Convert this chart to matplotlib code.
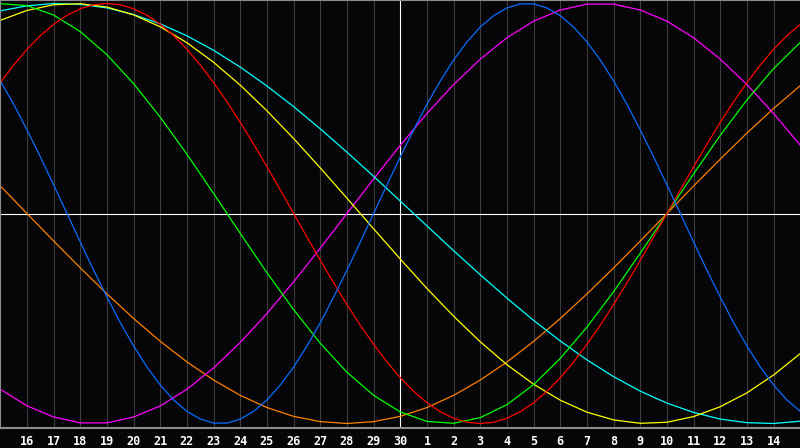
import matplotlib
matplotlib.use("Agg")
import matplotlib.pyplot as plt

# day labels along the bottom (one per grid line)
day_labels = [16, 17, 18, 19, 20, 21, 22, 23, 24, 25, 26, 27, 28, 29, 30,
              1, 2, 3, 4, 5, 6, 7, 8, 9, 10, 11, 12, 13, 14]
today_index = 14  # the "30" column, marked with the white line

# day positions of the samples (-1 = the column left of "16")
days = list(range(-1, 30))
half_days = [d / 2 for d in range(-2, 59)]

# cycle values in percent
# the two fast cycles are read every half day, the slower ones once a day
physical = [63.1, 52.0, 39.8, 27.0, 13.6, 0.0, -13.6, -27.0, -39.8, -52.0,
            -63.1, -73.1, -81.7, -88.8, -94.2, -97.9, -99.8, -99.8, -97.9, -94.2,
            -88.8, -81.7, -73.1, -63.1, -52.0, -39.8, -27.0, -13.6, 0.0, 13.6,
            27.0, 39.8, 52.0, 63.1, 73.1, 81.7, 88.8, 94.2, 97.9, 99.8,
            99.8, 97.9, 94.2, 88.8, 81.7, 73.1, 63.1, 52.0, 39.8, 27.0,
            13.6, 0.0, -13.6, -27.0, -39.8, -52.0, -63.1, -73.1, -81.7, -88.8, -94.2]
emotional = [62.3, 70.7, 78.2, 84.7, 90.1, 94.4, 97.5, 99.4, 100.0, 99.4,
             97.5, 94.4, 90.1, 84.7, 78.2, 70.7, 62.3, 53.2, 43.4, 33.0,
             22.3, 11.2, 0.0, -11.2, -22.3, -33.0, -43.4, -53.2, -62.3, -70.7,
             -78.2, -84.7, -90.1, -94.4, -97.5, -99.4, -100.0, -99.4, -97.5, -94.4,
             -90.1, -84.7, -78.2, -70.7, -62.3, -53.2, -43.4, -33.0, -22.3, -11.2,
             0.0, 11.2, 22.3, 33.0, 43.4, 53.2, 62.3, 70.7, 78.2, 84.7, 90.1]
intellectual = [99.9, 99.0, 94.5, 86.6, 75.6, 61.8, 45.8, 28.2, 9.5, -9.5,
                -28.2, -45.8, -61.8, -75.6, -86.6, -94.5, -99.0, -99.9, -97.2, -91.0,
                -81.5, -69.0, -54.1, -37.2, -18.9, 0.0, 18.9, 37.2, 54.1, 69.0, 81.5]
intuitive = [-83.7, -91.6, -96.9, -99.7, -99.7, -96.9, -91.6, -83.7, -73.5, -61.4,
             -47.6, -32.5, -16.5, 0.0, 16.5, 32.5, 47.6, 61.4, 73.5, 83.7,
             91.6, 96.9, 99.7, 99.7, 96.9, 91.6, 83.7, 73.5, 61.4, 47.6, 32.5]
aesthetic = [92.0, 96.7, 99.4, 99.9, 98.3, 94.6, 88.9, 81.3, 72.0, 61.1,
             48.9, 35.7, 21.7, 7.3, -7.3, -21.7, -35.7, -48.9, -61.1, -72.0,
             -81.3, -88.9, -94.6, -98.3, -99.9, -99.4, -96.7, -92.0, -85.4, -76.9, -66.7]
awareness = [13.1, 0.0, -13.1, -25.9, -38.3, -50.0, -60.9, -70.7, -79.3, -86.6,
             -92.4, -96.6, -99.1, -100.0, -99.1, -96.6, -92.4, -86.6, -79.3, -70.7,
             -60.9, -50.0, -38.3, -25.9, -13.1, 0.0, 13.1, 25.9, 38.3, 50.0, 60.9]
spiritual = [96.5, 98.9, 100.0, 99.6, 97.9, 94.7, 90.3, 84.6, 77.7, 69.7,
             60.7, 50.9, 40.3, 29.2, 17.7, 5.9, -5.9, -17.7, -29.2, -40.3,
             -50.9, -60.7, -69.7, -77.7, -84.6, -90.3, -94.7, -97.9, -99.6, -100.0, -98.9]

BG = "#060609"

fig = plt.figure(figsize=(8, 4.48), dpi=100, facecolor=BG)
ax = fig.add_axes([0, 20 / 448, 1, 428 / 448], facecolor=BG)

# day grid
for i in range(len(day_labels)):
    col = "white" if i == today_index else "#3c3c3c"
    ax.axvline(i, color=col, lw=0.8, zorder=1)
ax.axhline(0, color="white", lw=0.8, zorder=1)

series = [
    (days, awareness, "#ff8000"),
    (days, intuitive, "#ff00ff"),
    (days, spiritual, "#00ffff"),
    (days, aesthetic, "#ffff00"),
    (days, intellectual, "#00ff00"),
    (half_days, emotional, "#ff0000"),
    (half_days, physical, "#0a6cff"),
]
for xs, vals, col in series:
    ax.plot(xs, vals, color=col, lw=0.9, zorder=2)

ax.set_xlim(-1.0125, 28.99)
ax.set_ylim(-102.14, 101.67)

ax.set_xticks(range(len(day_labels)))
ax.set_xticklabels([str(d) for d in day_labels])
ax.tick_params(axis="x", length=0, pad=5, colors="white", labelsize=8.5)
for lbl in ax.get_xticklabels():
    lbl.set_fontfamily("DejaVu Sans Mono")
    lbl.set_fontweight("bold")
ax.set_yticks([])

for side in ["left", "top", "bottom"]:
    ax.spines[side].set_color("#8c8c8c")
    ax.spines[side].set_linewidth(1.5)
ax.spines["right"].set_visible(False)

fig.savefig("out.png", dpi=100, facecolor=BG)
